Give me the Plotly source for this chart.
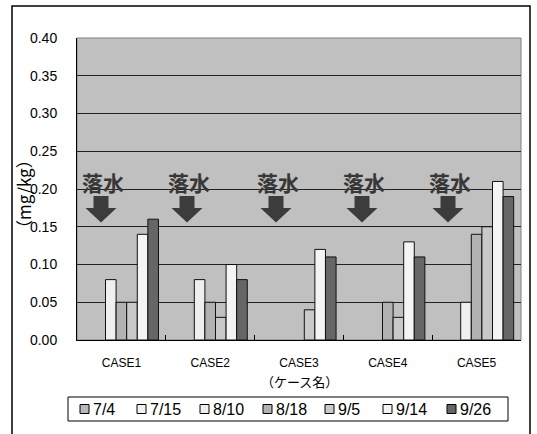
import plotly.graph_objects as go

# Sampling dates (series) and cases (categories)
cases = ["CASE1", "CASE2", "CASE3", "CASE4", "CASE5"]
dates = ["7/4", "7/15", "8/10", "8/18", "9/5", "9/14", "9/26"]

# Concentration (mg/kg) per date, one value per case
v_0704 = [0.00, 0.00, 0.00, 0.00, 0.00]
v_0715 = [0.00, 0.00, 0.00, 0.00, 0.00]
v_0810 = [0.08, 0.08, 0.00, 0.00, 0.05]
v_0818 = [0.05, 0.05, 0.00, 0.05, 0.14]
v_0905 = [0.05, 0.03, 0.04, 0.03, 0.15]
v_0914 = [0.14, 0.10, 0.12, 0.13, 0.21]
v_0926 = [0.16, 0.08, 0.11, 0.11, 0.19]
series = [v_0704, v_0715, v_0810, v_0818, v_0905, v_0914, v_0926]

colors = ["#b8b8b8", "#f2f2f2", "#efefef", "#b2b2b2", "#c9c9c9", "#f4f4f4", "#666666"]

y_ticks = [0.0, 0.05, 0.10, 0.15, 0.20, 0.25, 0.30, 0.35, 0.40]
y_tick_text = ["0.00", "0.05", "0.10", "0.15", "0.20", "0.25", "0.30", "0.35", "0.40"]

# Drainage marker ("落水") label/arrow centres, in pixels from the left edge
drain_x_px = [101, 187, 276, 362, 448]
# Legend swatch left edges, in pixels
legend_x_px = [80, 137, 200, 263, 325, 383, 447]

W, H = 537, 434
PL, PR, PT, PB = 77, 521, 38, 340


def px_x(x):
    return (x - PL) / (PR - PL)


def px_y(y):
    return (PB - y) / (PB - PT)


fig = go.Figure()
for name, vals, col in zip(dates, series, colors):
    # no outline on empty bars so the baseline stays thin
    widths = [1 if v > 0 else 0 for v in vals]
    fig.add_trace(go.Bar(
        name=name, x=cases, y=vals, showlegend=False,
        marker=dict(color=col, line=dict(color="#111111", width=widths)),
    ))

shapes = []
annotations = []

# outer chart frame
shapes.append(dict(type="rect", xref="paper", yref="paper",
                   x0=px_x(12), x1=px_x(530), y0=px_y(445), y1=px_y(6),
                   line=dict(color="#000000", width=1.5), layer="below"))
# plot area border (top/right gray)
shapes.append(dict(type="rect", xref="paper", yref="paper",
                   x0=0, x1=1, y0=0, y1=1,
                   line=dict(color="#808080", width=1), layer="below"))

# drainage markers
for cx in drain_x_px:
    annotations.append(dict(
        text="<b>落水</b>", xref="paper", yref="paper",
        x=px_x(cx + 2), y=px_y(182), showarrow=False,
        font=dict(family="Noto Sans CJK JP", size=21, color="#383838"),
        xanchor="center", yanchor="middle"))
    top, neck, tip = 196, 208, 222.5
    sw, hw = 7.5, 15.5
    pts = [(cx - sw, top), (cx + sw, top), (cx + sw, neck), (cx + hw, neck),
           (cx, tip), (cx - hw, neck), (cx - sw, neck)]
    path = "M " + " L ".join(f"{px_x(x):.5f},{px_y(y):.5f}" for x, y in pts) + " Z"
    shapes.append(dict(type="path", xref="paper", yref="paper", path=path,
                       fillcolor="#3c3c3c", line=dict(width=0)))

# legend box with swatches
shapes.append(dict(type="rect", xref="paper", yref="paper",
                   x0=px_x(68), x1=px_x(508), y0=px_y(421), y1=px_y(397),
                   line=dict(color="#000000", width=1), fillcolor="#ffffff"))
for lx, name, col in zip(legend_x_px, dates, colors):
    shapes.append(dict(type="rect", xref="paper", yref="paper",
                       x0=px_x(lx), x1=px_x(lx + 9), y0=px_y(413.5), y1=px_y(404.5),
                       line=dict(color="#000000", width=1), fillcolor=col))
    annotations.append(dict(
        text=name, xref="paper", yref="paper",
        x=px_x(lx + 11), y=px_y(409), showarrow=False,
        font=dict(family="Liberation Sans", size=16, color="#000000"),
        xanchor="left", yanchor="middle"))

annotations.append(dict(
    text="（mg/kg）", xref="paper", yref="paper",
    x=px_x(23), y=px_y(194), textangle=-90, showarrow=False,
    font=dict(family="Noto Sans CJK JP", size=17, color="#000000"),
    xanchor="center", yanchor="middle"))
annotations.append(dict(
    text="（ケース名）", xref="paper", yref="paper",
    x=0.5, y=px_y(381), showarrow=False,
    font=dict(family="Noto Sans CJK JP", size=13, color="#000000"),
    xanchor="center", yanchor="middle"))

fig.update_layout(
    width=W, height=H,
    margin=dict(l=PL, r=W - PR, t=PT, b=H - PB),
    paper_bgcolor="#ffffff", plot_bgcolor="#c0c0c0",
    barmode="group", bargap=0.165, bargroupgap=0,
    font=dict(family="Liberation Sans", size=14, color="#000000"),
    showlegend=False,
    shapes=shapes, annotations=annotations,
)
fig.update_xaxes(
    type="category", showgrid=False, showline=True, linecolor="#000000", linewidth=1,
    ticks="inside", ticklen=5, tickcolor="#000000", tickson="boundaries",
    tickfont=dict(family="Liberation Sans", size=12), ticklabelstandoff=12,
    zeroline=False, fixedrange=True,
)
fig.update_yaxes(
    range=[0, 0.40], tickvals=y_ticks, ticktext=y_tick_text,
    showgrid=True, gridcolor="#222222", gridwidth=1,
    showline=True, linecolor="#000000", linewidth=1,
    ticks="", tickfont=dict(family="Liberation Sans", size=14), ticklabelstandoff=16,
    zeroline=False, fixedrange=True,
)

fig.write_html("out.html")
